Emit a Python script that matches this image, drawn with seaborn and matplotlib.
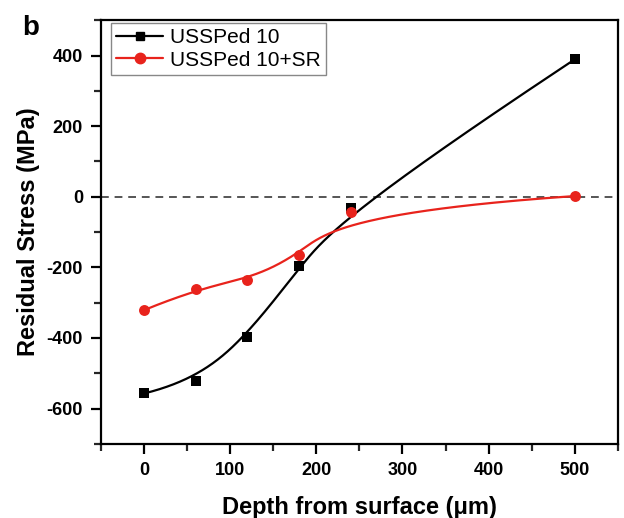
import numpy as np
import pandas as pd
import matplotlib
matplotlib.use("Agg")
import matplotlib.pyplot as plt
from matplotlib.lines import Line2D
from matplotlib.ticker import MultipleLocator
import seaborn as sns

# Measured residual stress profiles
depth = [0, 60, 120, 180, 240, 500]
stress_ped = [-557, -521, -397, -197, -31, 389]
stress_ped_sr = [-321, -261, -236, -166, -42, 2]
series_names = ["USSPed 10", "USSPed 10+SR"]
series_colors = ["black", "#e8231c"]
series_markers = ["s", "o"]


def bspline(xs, ys, n=400):
    """Clamped uniform cubic B-spline using the points as control points."""
    P = np.column_stack([xs, ys]).astype(float)
    k = 3
    m = len(P)
    inner = np.arange(1, m - k)
    knots = np.concatenate([np.zeros(k + 1), inner, np.full(k + 1, m - k)]).astype(float)
    ts = np.linspace(0, m - k, n)
    out = []
    for t in ts:
        # Cox-de Boor recursion
        N = np.zeros(len(knots) - 1)
        for i in range(len(knots) - 1):
            if knots[i] <= t < knots[i + 1]:
                N[i] = 1.0
        if t >= knots[-1]:
            N[m - 1] = 1.0
        for d in range(1, k + 1):
            Nn = np.zeros(len(knots) - 1 - d)
            for i in range(len(Nn)):
                a = 0.0
                if knots[i + d] != knots[i]:
                    a = (t - knots[i]) / (knots[i + d] - knots[i]) * N[i]
                b = 0.0
                if knots[i + d + 1] != knots[i + 1]:
                    b = (knots[i + d + 1] - t) / (knots[i + d + 1] - knots[i + 1]) * N[i + 1]
                Nn[i] = a + b
            N = Nn
        out.append(N[:m] @ P)
    out = np.array(out)
    return out[:, 0], out[:, 1]


sns.set_theme(style="ticks")
plt.rcParams["font.family"] = ["Liberation Sans", "DejaVu Sans"]
plt.rcParams["axes.unicode_minus"] = False
plt.rcParams["text.color"] = "black"
plt.rcParams["axes.labelcolor"] = "black"

fig = plt.figure(figsize=(6.24, 5.18), dpi=100)
ax = fig.add_axes([0.162, 0.143, 0.828, 0.818])

ax.axhline(0, color="#555555", lw=1.4, ls=(0, (4, 3)), zorder=1)

for ys, name, col, mk in zip([stress_ped, stress_ped_sr], series_names, series_colors, series_markers):
    cx, cy = bspline(depth, ys)
    curve = pd.DataFrame({"x": cx, "y": cy})
    sns.lineplot(data=curve, x="x", y="y", ax=ax, color=col, lw=1.6, sort=False,
                 estimator=None, zorder=2)
    pts = pd.DataFrame({"x": depth, "y": ys})
    sns.scatterplot(data=pts, x="x", y="y", ax=ax, color=col, marker=mk,
                    s=48 if mk == "s" else 62, edgecolor=col, linewidth=0, zorder=3)

ax.set_xlim(-50, 550)
ax.set_ylim(-700, 500)
ax.xaxis.set_major_locator(MultipleLocator(100))
ax.xaxis.set_minor_locator(MultipleLocator(50))
ax.yaxis.set_major_locator(MultipleLocator(200))
ax.yaxis.set_minor_locator(MultipleLocator(100))
ax.set_xticks([0, 100, 200, 300, 400, 500])

for s in ax.spines.values():
    s.set_linewidth(1.6)
    s.set_color("black")
ax.tick_params(which="major", direction="out", length=7, width=1.6, labelsize=13,
               colors="black", pad=6)
ax.tick_params(which="minor", direction="out", length=5, width=1.6)
for lab in ax.get_xticklabels() + ax.get_yticklabels():
    lab.set_fontweight("bold")

ax.set_xlabel("Depth from surface (\u03bcm)", fontsize=17, fontweight="bold", labelpad=12,
              color="black")
ax.set_ylabel("Residual Stress (MPa)", fontsize=17, fontweight="bold", labelpad=5,
              color="black")

handles = [Line2D([0], [0], color=c, marker=m, lw=1.6, markersize=7.5 if m == "o" else 6)
           for c, m in zip(series_colors, series_markers)]
leg = ax.legend(handles, series_names, loc="upper left", fontsize=15, frameon=True,
                fancybox=False, edgecolor="#888888", framealpha=1,
                borderpad=0.25, handlelength=2.25, handletextpad=0.35,
                labelspacing=0.15, borderaxespad=0,
                bbox_to_anchor=(10 / 517, 1 - 3 / 424))
leg.get_frame().set_linewidth(1.0)
for t in leg.get_texts():
    t.set_color("black")

fig.text(0.035, 0.945, "b", fontsize=20, fontweight="bold", va="center", ha="left",
         color="black")

fig.savefig("out.png", dpi=100, facecolor="white")
